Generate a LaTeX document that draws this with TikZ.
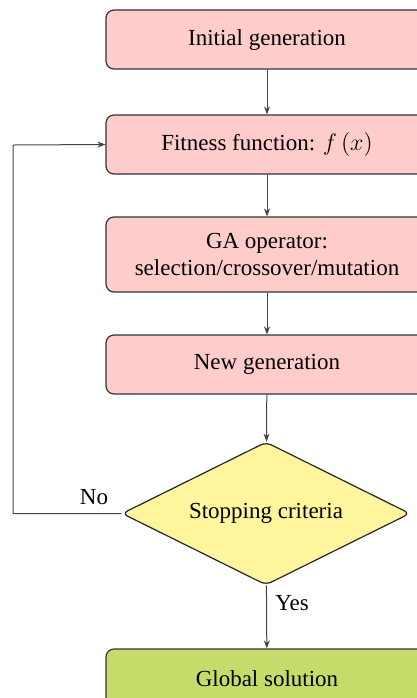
\documentclass[tikz,border=0pt]{standalone}
\usepackage{fontspec}
\setmainfont{Liberation Serif}
\usetikzlibrary{shapes.geometric,arrows.meta}
\definecolor{boxpink}{HTML}{FFCCCC}
\definecolor{diayellow}{HTML}{FFF59D}
\definecolor{boxgreen}{HTML}{C5DB6A}
\definecolor{edgegray}{HTML}{444444}
\tikzset{
  procbox/.style={draw=black!80, line width=0.6pt, rounded corners=4pt, fill=boxpink,
    minimum width=161pt, minimum height=29.5pt, inner sep=2pt, align=center,
    font=\fontsize{11.5}{13.5}\selectfont},
  decbox/.style={diamond, shape aspect=2, draw=black!85, line width=0.6pt, rounded corners=3pt, fill=diayellow,
    minimum width=144pt, minimum height=71.5pt, inner sep=0pt,
    font=\fontsize{11.5}{13.5}\selectfont},
  flow/.style={draw=edgegray, line width=0.5pt, -{Stealth[length=4pt,width=3pt]}},
  lbl/.style={font=\fontsize{11.5}{13.5}\selectfont, inner sep=1pt}
}
\begin{document}
\begin{tikzpicture}[x=0.5pt,y=-0.5pt]
\useasboundingbox (0,0) rectangle (417,698);
\node[procbox] (init) at (267,39.5) {Initial generation};
\node[procbox] (fit) at (267,144.5) {Fitness function: $f\left(x\right)$};
\node[procbox, minimum height=37.5pt] (ga) at (267,254.5) {GA operator:\\selection/crossover/mutation};
\node[procbox] (new) at (267,364.5) {New generation};
\node[decbox] (stop) at (266,513.5) {Stopping criteria};
\node[procbox, fill=boxgreen] (glob) at (267,678.5) {Global solution};
\coordinate (c1) at (13,513.5);
\coordinate (c2) at (13,145);
\draw[flow] (init) -- (fit);
\draw[flow] (fit) -- (ga);
\draw[flow] (ga) -- (new);
\draw[flow] (new) -- (stop);
\draw[flow] (stop) -- (glob);
\draw[flow] (stop.west) -- (c1) -- (c2) -- (fit.west);
\node[lbl] (no) at (94,497) {No};
\node[lbl] (yes) at (292,603) {Yes};
\end{tikzpicture}
\end{document}
